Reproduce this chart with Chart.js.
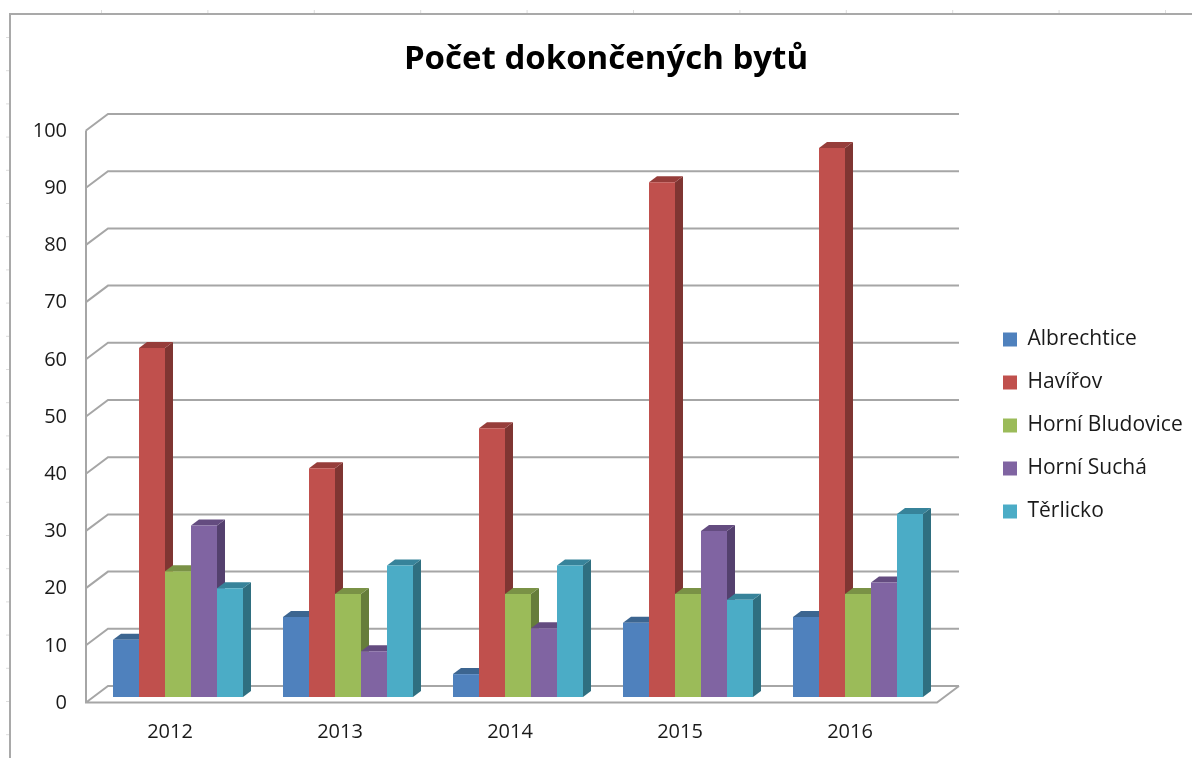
<!DOCTYPE html>
<html>
<head>
<meta charset="utf-8">
<title>Počet dokončených bytů</title>
<script src="https://cdn.jsdelivr.net/npm/chart.js@4"></script>
<style>
    html, body { margin: 0; background: #fff; }
    canvas { display: block; }
</style>
</head>
<body>
<canvas id="bytyChart" width="1192" height="758"></canvas>
<script>
const years = ['2012', '2013', '2014', '2015', '2016'];

const albrechtice = [10, 14, 4, 13, 14];
const havirov = [61, 40, 47, 90, 96];
const horniBludovice = [22, 18, 18, 18, 18];
const horniSucha = [30, 8, 12, 29, 20];
const terlicko = [19, 23, 23, 17, 32];

const names = ['Albrechtice', 'Havířov', 'Horní Bludovice', 'Horní Suchá', 'Těrlicko'];
const values = [albrechtice, havirov, horniBludovice, horniSucha, terlicko];
const fronts = ['#4f81bd', '#c0504d', '#9bbb59', '#8064a2', '#4bacc6'];
const sides = ['#385d8a', '#7f3532', '#667d3b', '#54406e', '#2f6f80'];
const tops = ['#3c6590', '#963d3a', '#7a9246', '#644c80', '#37839a'];

const gridColor = '#a6a6a6';
const font = '"Open Sans", "Noto Sans", sans-serif';

// the wall, floor and sheet frame are drawn around the bar plane
const walls = {
    id: 'walls',
    afterLayout(chart) {
        // title and legend sit outside the plot, not where the layout puts them
        chart.titleBlock.left = 0;
        chart.titleBlock.right = 1212;
        chart.legend.left = 981;
        chart.legend.right = 1192;
        chart.legend.top = 307;
        chart.legend.bottom = 600;
    },
    beforeDraw(chart) {
        const c = chart.ctx;
        c.save();
        c.strokeStyle = '#a9a9a9';
        c.lineWidth = 2;
        c.beginPath();
        c.moveTo(10, 758);
        c.lineTo(10, 14);
        c.lineTo(1192, 14);
        c.stroke();
        c.strokeStyle = '#dddddd';
        c.lineWidth = 1;
        c.beginPath();
        for (let x = 101.5; x < 1192; x += 106.4) {
            c.moveTo(x, 10);
            c.lineTo(x, 13);
        }
        for (let y = 37.5; y < 758; y += 33.2) {
            c.moveTo(6, y);
            c.lineTo(9, y);
        }
        c.stroke();
        c.restore();
    },
    beforeDatasetsDraw(chart) {
        const c = chart.ctx;
        const y = chart.scales.y;
        const area = chart.chartArea;
        const frontX = area.left - 7;
        const backX = area.left + 15;
        const backEnd = area.right + 16;
        c.save();
        c.strokeStyle = gridColor;
        c.lineWidth = 2;
        c.beginPath();
        y.ticks.forEach(t => {
            const p = y.getPixelForValue(t.value);
            c.moveTo(frontX, p + 5.5);
            c.lineTo(backX, p - 11);
            c.lineTo(backEnd, p - 11);
        });
        const zero = y.getPixelForValue(0);
        c.moveTo(frontX, y.getPixelForValue(100) + 5.5);
        c.lineTo(frontX, zero + 5.5);
        c.lineTo(area.right - 6, zero + 5.5);
        c.lineTo(backEnd, zero - 11);
        c.stroke();

        // sides and tops go down first, the library then paints the fronts over them
        const dx = 8;
        const dy = 6;
        names.forEach((name, i) => {
            chart.getDatasetMeta(i).data.forEach(bar => {
                const right = bar.x + bar.width / 2;
                c.fillStyle = sides[i];
                c.beginPath();
                c.moveTo(right, bar.y);
                c.lineTo(right + dx, bar.y - dy);
                c.lineTo(right + dx, bar.base - dy);
                c.lineTo(right, bar.base);
                c.closePath();
                c.fill();
            });
        });
        names.forEach((name, i) => {
            chart.getDatasetMeta(i).data.forEach(bar => {
                const left = bar.x - bar.width / 2;
                const right = bar.x + bar.width / 2;
                c.fillStyle = tops[i];
                c.beginPath();
                c.moveTo(left, bar.y);
                c.lineTo(left + dx, bar.y - dy);
                c.lineTo(right + dx, bar.y - dy);
                c.lineTo(right, bar.y);
                c.closePath();
                c.fill();
            });
        });
        c.restore();
    }
};

new Chart(document.getElementById('bytyChart'), {
    type: 'bar',
    data: {
        labels: years,
        datasets: names.map((name, i) => ({
            label: name,
            data: values[i],
            backgroundColor: fronts[i],
            categoryPercentage: 130 / 170,
            barPercentage: 1
        }))
    },
    options: {
        responsive: false,
        animation: false,
        layout: { padding: { top: 0, right: 249, bottom: 0, left: 0 } },
        plugins: {
            title: {
                display: true,
                text: 'Počet dokončených bytů',
                color: '#000',
                font: { family: font, size: 33, weight: 'bold' },
                padding: { top: 40, bottom: 45.4 }
            },
            legend: {
                position: 'chartArea',
                align: 'start',
                labels: {
                    boxWidth: 14,
                    boxHeight: 14,
                    padding: 22,
                    color: '#1a1a1a',
                    font: { family: font, size: 21 }
                }
            },
            tooltip: { enabled: false }
        },
        scales: {
            x: {
                grid: { display: false, drawTicks: false },
                border: { display: false },
                ticks: {
                    color: '#1a1a1a',
                    padding: 23,
                    labelOffset: -8,
                    maxRotation: 0,
                    font: { family: font, size: 20 }
                },
                afterFit(scale) { scale.height = 61; }
            },
            y: {
                min: 0,
                max: 100,
                grid: { display: false, drawTicks: false },
                border: { display: false },
                ticks: {
                    stepSize: 10,
                    color: '#1a1a1a',
                    padding: 26,
                    labelOffset: 6,
                    font: { family: font, size: 20 }
                },
                afterFit(scale) { scale.width = 93; }
            }
        }
    },
    plugins: [walls]
});
</script>
</body>
</html>
